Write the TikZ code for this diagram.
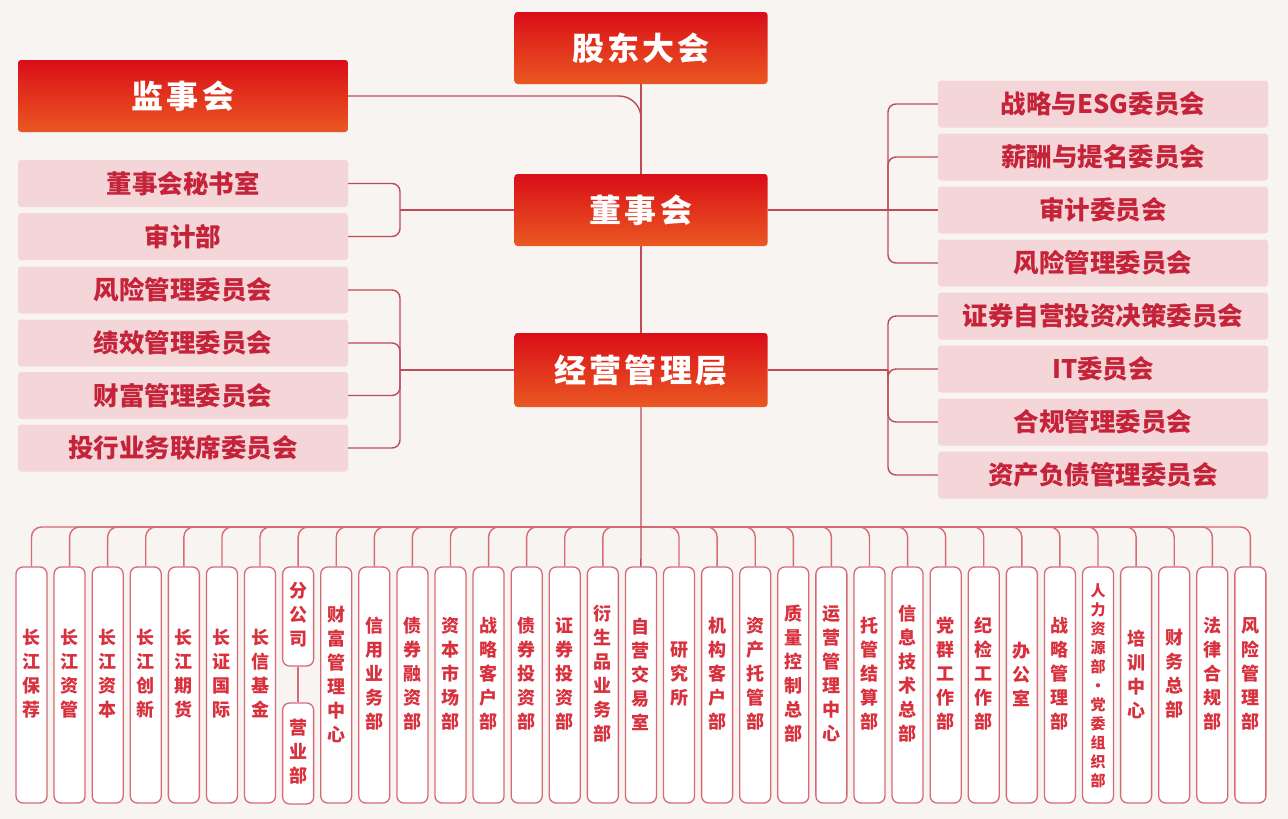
\documentclass[tikz,border=0pt]{standalone}
\usepackage{fontspec}
\newfontfamily\cjk{Noto Sans CJK SC}
\definecolor{bg}{HTML}{F7F4F1}
\definecolor{lnc}{HTML}{BF4A58}
\definecolor{clc}{HTML}{D76A75}
\definecolor{pinkfill}{HTML}{F5D6D8}
\definecolor{pinktext}{HTML}{C5233A}
\definecolor{topA}{HTML}{D90E18}
\definecolor{topB}{HTML}{EA5822}
\definecolor{coltext}{HTML}{D8303D}
\tikzset{
  mainbox/.style={rectangle, rounded corners=3pt, top color=topA, bottom color=topB,
    text=white, font=\cjk\bfseries\fontsize{32}{36}\selectfont\addfontfeatures{LetterSpace=10},
    minimum width=253pt, minimum height=72pt, inner sep=0pt},
  subbox/.style={rectangle, rounded corners=3pt, fill=pinkfill, text=pinktext,
    font=\cjk\bfseries\fontsize{25.5}{27}\selectfont,
    minimum width=330pt, minimum height=47pt, inner sep=0pt},
  colbox/.style={rectangle, rounded corners=7pt, draw=clc, line width=1.3pt, fill=white,
    minimum width=31pt, minimum height=236pt, inner sep=0pt},
  coltxt/.style={text=coltext, align=center, inner sep=0pt,
    font=\cjk\bfseries\fontsize{18}{24}\selectfont},
  link/.style={draw=lnc, line width=1.4pt},
  clink/.style={draw=clc, line width=1.4pt, rounded corners=10pt},
}
\begin{document}
\begin{tikzpicture}[x=1pt,y=-1pt]
\fill[bg] (0,0) rectangle (1288,819);
\useasboundingbox (0,0) rectangle (1288,819);

% main boxes
\node[mainbox] (gd) at (641,48) {股东大会};
\node[mainbox, minimum width=330pt] (js) at (183,96) {监事会};
\node[mainbox] (dsh) at (641,210) {董事会};
\node[mainbox, minimum height=74pt] (jy) at (641,370) {经营管理层};

% left sub boxes
\node[subbox] (L1) at (183,183.5) {董事会秘书室};
\node[subbox] (L2) at (183,236.5) {审计部};
\node[subbox] (L3) at (183,290) {风险管理委员会};
\node[subbox] (L4) at (183,343) {绩效管理委员会};
\node[subbox] (L5) at (183,395.5) {财富管理委员会};
\node[subbox] (L6) at (183,448) {投行业务联席委员会};

% right sub boxes
\node[subbox] (R1) at (1103,104) {战略与ESG委员会};
\node[subbox] (R2) at (1103,157) {薪酬与提名委员会};
\node[subbox] (R3) at (1103,210) {审计委员会};
\node[subbox] (R4) at (1103,263) {风险管理委员会};
\node[subbox] (R5) at (1103,316) {证券自营投资决策委员会};
\node[subbox] (R6) at (1103,369) {IT委员会};
\node[subbox] (R7) at (1103,422) {合规管理委员会};
\node[subbox] (R8) at (1103,475) {资产负债管理委员会};

% bracket coordinates
\coordinate (lb1) at (400,210);
\coordinate (lb2) at (400,370);
\coordinate (rb1) at (888,210);
\coordinate (rb2) at (888,370);
\coordinate (jt) at (641,150);
\coordinate (bus) at (641,527);

% trunk
\draw[link] (gd.south) -- (dsh.north);
\draw[link] (dsh.south) -- (jy.north);
\draw[link, rounded corners=22pt] (js.east) -| (jt);

% left brackets
\draw[link, rounded corners=8pt] (L1.east) -| (lb1) |- (L2.east);
\draw[link] (lb1) -- (dsh.west);
\draw[link, rounded corners=8pt] (L3.east) -| (lb2) |- (L6.east);
\draw[link, rounded corners=8pt] (L4.east) -| (lb2);
\draw[link, rounded corners=8pt] (L5.east) -| (lb2);
\draw[link] (lb2) -- (jy.west);

% right brackets
\draw[link] (dsh.east) -- (R3.west);
\draw[link, rounded corners=8pt] (R1.west) -| (rb1) |- (R4.west);
\draw[link, rounded corners=8pt] (rb1) |- (R2.west);
\draw[link] (jy.east) -- (rb2);
\draw[link, rounded corners=8pt] (R5.west) -| (rb2) |- (R8.west);
\draw[link, rounded corners=8pt] (rb2) |- (R6.west);
\draw[link, rounded corners=8pt] (rb2) |- (R7.west);

% bottom columns
\foreach \i/\t in {1/长\\江\\保\\荐, 2/长\\江\\资\\管, 3/长\\江\\资\\本, 4/长\\江\\创\\新,
  5/长\\江\\期\\货, 6/长\\证\\国\\际, 7/长\\信\\基\\金, 9/财\\富\\管\\理\\中\\心,
  10/信\\用\\业\\务\\部, 11/债\\券\\融\\资\\部, 12/资\\本\\市\\场\\部, 13/战\\略\\客\\户\\部,
  14/债\\券\\投\\资\\部, 15/证\\券\\投\\资\\部, 16/衍\\生\\品\\业\\务\\部, 17/自\\营\\交\\易\\室,
  18/研\\究\\所, 19/机\\构\\客\\户\\部, 20/资\\产\\托\\管\\部, 21/质\\量\\控\\制\\总\\部,
  22/运\\营\\管\\理\\中\\心, 23/托\\管\\结\\算\\部, 24/信\\息\\技\\术\\总\\部, 25/党\\群\\工\\作\\部,
  26/纪\\检\\工\\作\\部, 27/办\\公\\室, 28/战\\略\\管\\理\\部, 30/培\\训\\中\\心,
  31/财\\务\\总\\部, 32/法\\律\\合\\规\\部, 33/风\\险\\管\\理\\部} {
  \pgfmathsetmacro\cx{31.5+38.09*(\i-1)}
  \node[colbox] (c\i) at (\cx,685) {};
  \node[coltxt] (t\i) at (\cx,674) {\t};
}
% column 8: branch offices
\pgfmathsetmacro\cxe{31.5+38.09*7}
\node[colbox, minimum height=99pt] (c8) at (\cxe,616.5) {};
\node[coltxt] (t8) at (\cxe,615) {分\\公\\司};
\node[colbox, minimum height=101pt] (c8b) at (\cxe,753.5) {};
\node[coltxt] (t8b) at (\cxe,752) {营\\业\\部};
\draw[clink] (c8.south) -- (c8b.north);
% column 29
\pgfmathsetmacro\cxn{31.5+38.09*28}
\node[colbox] (c29) at (\cxn,685) {};
\node[coltxt, font=\cjk\bfseries\fontsize{15}{19}\selectfont] (t29) at (\cxn,686) {人\\力\\资\\源\\部\\·\\党\\委\\组\\织\\部};

% column connectors
\foreach \i in {1,...,16,18,19,...,33} {
  \draw[clink] (c\i.north) |- (bus);
}
\draw[link] (jy.south) -- (c17.north);
\end{tikzpicture}
\end{document}
